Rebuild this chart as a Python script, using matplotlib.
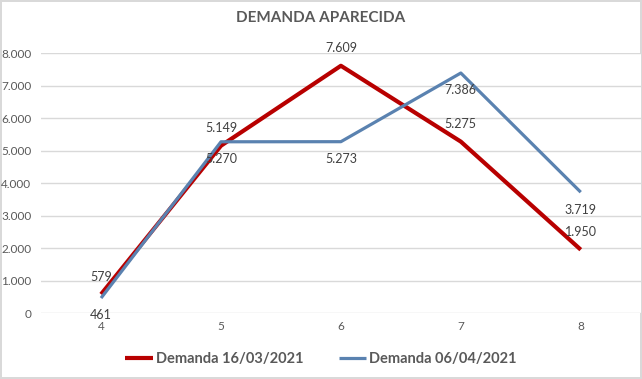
import matplotlib.pyplot as plt
from matplotlib.ticker import FuncFormatter

plt.rcParams['font.family'] = ['Lato', 'DejaVu Sans']

semanas = [4, 5, 6, 7, 8]
demanda_1603 = [579, 5149, 7609, 5275, 1950]
demanda_0604 = [461, 5270, 5273, 7386, 3719]

rojo = '#B80000'
azul = '#5A82B0'
gris = '#595959'

fig = plt.figure(figsize=(6.42, 3.79), dpi=100)
fig.patch.set_edgecolor('#D9D9D9')
fig.patch.set_linewidth(1.5)
ax = fig.add_axes([0.064, 0.174, 0.934, 0.686])

ax.plot(semanas, demanda_1603, color=rojo, lw=3, label='Demanda 16/03/2021',
        solid_capstyle='butt', zorder=3)
ax.plot(semanas, demanda_0604, color=azul, lw=2.3, label='Demanda 06/04/2021',
        solid_capstyle='butt', zorder=3)

# etiquetas: rojo encima, azul debajo
fmt = lambda v: f'{v:,.0f}'.replace(',', '.')
for x, y in zip(semanas, demanda_1603):
    ax.annotate(fmt(y), (x, y), xytext=(0, 12.5), textcoords='offset points',
                ha='center', va='center', fontsize=9, color='#404040')
for x, y in zip(semanas, demanda_0604):
    ax.annotate(fmt(y), (x, y), xytext=(0, -12.5), textcoords='offset points',
                ha='center', va='center', fontsize=9, color='#404040')

ax.set_xlim(3.5, 8.5)
ax.set_ylim(0, 8000)
ax.set_yticks(range(0, 8001, 1000))
ax.yaxis.set_major_formatter(FuncFormatter(lambda v, p: fmt(v)))
ax.set_xticks(semanas)
ax.grid(axis='y', color='#D9D9D9', lw=1)
ax.set_axisbelow(True)
for s in ax.spines.values():
    s.set_visible(False)
ax.tick_params(length=0, labelsize=8.5, labelcolor=gris)
ax.tick_params(axis='y', pad=7)
ax.tick_params(axis='x', pad=6)

fig.suptitle('DEMANDA APARECIDA', y=0.97, fontsize=11, fontweight='bold', color=gris)
leg = fig.legend(loc='lower center', bbox_to_anchor=(0.5, 0.0), ncol=2, frameon=False,
                 handlelength=1.9, handletextpad=0.2, columnspacing=2.4,
                 prop={'weight': 'bold', 'size': 10.5})
for t in leg.get_texts():
    t.set_color(gris)

fig.savefig('out.png', dpi=100)
